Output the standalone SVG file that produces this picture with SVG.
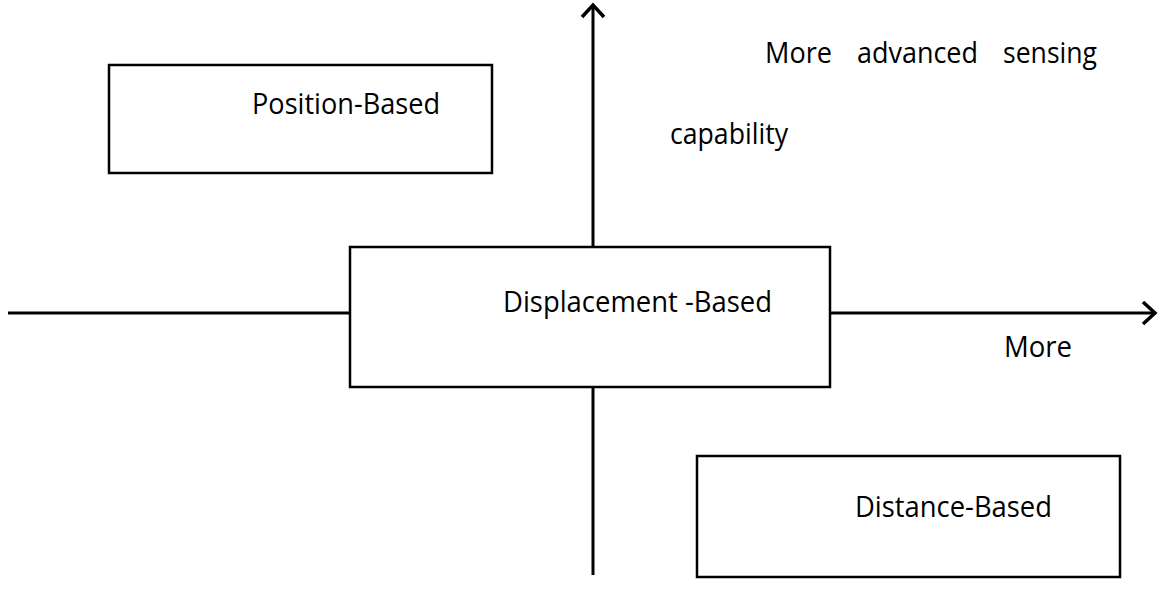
<svg xmlns="http://www.w3.org/2000/svg" width="1162" height="602" viewBox="0 0 1162 602">
<defs>
<style>
.box{fill:#fff;stroke:#000;stroke-width:2.5}
.axis{fill:none;stroke:#000;stroke-width:3}
.t{font-family:"Open Sans","Noto Sans","Liberation Sans",sans-serif;font-size:29px;fill:#000}
</style>
<marker id="arr" viewBox="0 0 26 26" refX="23" refY="13" markerWidth="26" markerHeight="26" markerUnits="userSpaceOnUse" orient="auto">
<path d="M11,2 L23,13 L11,24" fill="none" stroke="#000" stroke-width="3.5"/>
</marker>
</defs>
<rect width="1162" height="602" fill="#fff"/>
<g id="connectors">
<line class="axis" x1="593" y1="575" x2="593" y2="5" marker-end="url(#arr)"/>
<line class="axis" x1="8" y1="313" x2="1155" y2="313" marker-end="url(#arr)"/>
</g>
<g id="position-based">
<rect class="box" x="109" y="65" width="383" height="108"/>
<text class="t" x="252" y="114" textLength="188" lengthAdjust="spacingAndGlyphs">Position-Based</text>
</g>
<g id="displacement-based">
<rect class="box" x="350" y="247" width="480" height="140"/>
<text class="t" x="503" y="312" textLength="269" lengthAdjust="spacingAndGlyphs">Displacement -Based</text>
</g>
<g id="distance-based">
<rect class="box" x="697" y="456" width="423" height="121"/>
<text class="t" x="855" y="517" textLength="197" lengthAdjust="spacingAndGlyphs">Distance-Based</text>
</g>
<g id="labels">
<text class="t" x="765" y="63" textLength="67" lengthAdjust="spacingAndGlyphs">More</text>
<text class="t" x="857" y="63" textLength="121" lengthAdjust="spacingAndGlyphs">advanced</text>
<text class="t" x="1003" y="63" textLength="94" lengthAdjust="spacingAndGlyphs">sensing</text>
<text class="t" x="670" y="144" textLength="118" lengthAdjust="spacingAndGlyphs">capability</text>
<text class="t" x="1004" y="357" textLength="68" lengthAdjust="spacingAndGlyphs">More</text>
</g>
</svg>
